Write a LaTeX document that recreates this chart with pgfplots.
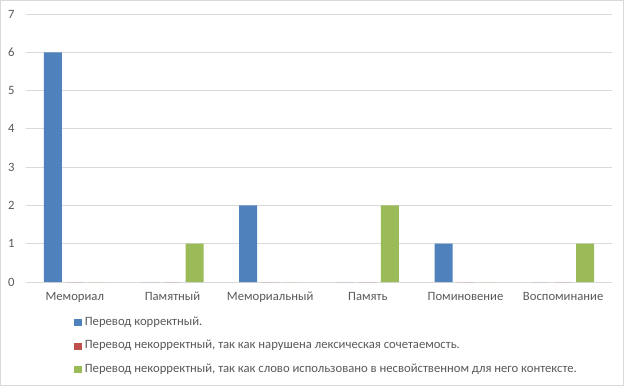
\documentclass[border=0pt]{standalone}
\usepackage{pgfplots}
\pgfplotsset{compat=1.18}
\usepackage{fontspec}
\setmainfont{Carlito}
\definecolor{cblue}{HTML}{4F81BD}
\definecolor{cred}{HTML}{C0504D}
\definecolor{cgreen}{HTML}{9BBB59}
\definecolor{cgrid}{HTML}{D9D9D9}
\definecolor{ctext}{HTML}{595959}
\begin{document}
\begin{tikzpicture}
\useasboundingbox (0pt,0pt) rectangle (468pt,289.5pt);
\draw[cgrid, line width=0.75pt] (0.375pt,0.375pt) rectangle (467.625pt,289.125pt);
\begin{axis}[
  at={(19.5pt,78pt)}, anchor=south west,
  scale only axis, width=439.5pt, height=201pt,
  ybar=3pt, bar width=13.5pt,
  xmin=-0.5, xmax=5.5, ymin=0, ymax=7,
  xtick={0,1,2,3,4,5},
  xticklabels={Мемориал,Памятный,Мемориальный,Память,Поминовение,Воспоминание},
  ytick={0,1,...,7},
  ymajorgrids, grid style={cgrid, line width=0.75pt},
  axis x line*=bottom, axis y line*=left,
  y axis line style={draw=none},
  x axis line style={cgrid, line width=0.75pt, -},
  major tick length=0pt,
  tick label style={font=\fontsize{9.5}{11}\selectfont, text=ctext},
  /pgf/number format/assume math mode=true,
  yticklabel style={xshift=-5pt},
  xticklabel style={yshift=-4pt},
  legend style={at={(0.082,-0.119)}, anchor=north west, draw=none,
    font=\fontsize{9.5}{11}\selectfont, text=ctext, row sep=4.5pt,
    inner sep=0pt, nodes={text height=6.5pt, text depth=2.5pt, inner xsep=2.5pt}},
  legend cell align=left,
  legend image code/.code={\fill[#1] (0pt,-2.7pt) rectangle (5.4pt,2.7pt);},
]
\addplot[fill=cblue, draw=none] coordinates {(0,6) (1,0) (2,2) (3,0) (4,1) (5,0)};
\addplot[fill=cred, draw=none] coordinates {(0,0) (1,0) (2,0) (3,0) (4,0) (5,0)};
\addplot[fill=cgreen, draw=none] coordinates {(0,0) (1,1) (2,0) (3,2) (4,0) (5,1)};
\legend{Перевод корректный.,{Перевод некорректный, так как нарушена лексическая сочетаемость.},{Перевод некорректный, так как слово использовано в несвойственном для него контексте.}}
\end{axis}
\end{tikzpicture}
\end{document}
